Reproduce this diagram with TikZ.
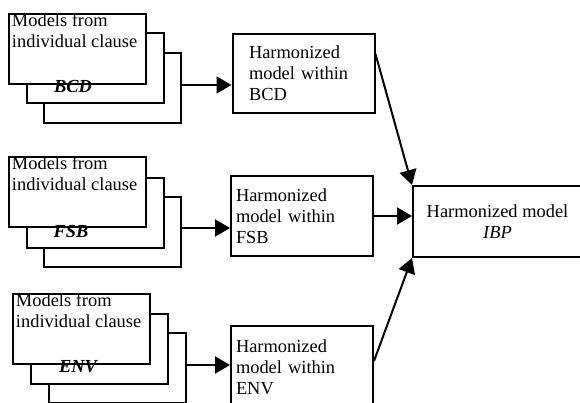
\documentclass[tikz,border=0pt]{standalone}
\usepackage{fontspec}
\setmainfont{Liberation Serif}
\usetikzlibrary{arrows.meta,calc}

\begin{document}
\begin{tikzpicture}[x=1pt,y=-1pt,>={Triangle[length=15pt,width=17pt]},line width=2pt,
    every node/.style={font=\fontsize{18.4pt}{21pt}\selectfont},
    stack/.style={draw,fill=white,minimum width=137pt,minimum height=70pt,inner sep=0pt},
    clause/.style={anchor=north west,align=left,inner sep=0pt},
    grp/.style={anchor=base,inner sep=0pt,font=\fontsize{18.4pt}{21pt}\selectfont\bfseries\itshape},
    harm/.style={draw,align=left,inner xsep=5pt,text width=132pt,minimum width=142pt}]
    \useasboundingbox (0,0) rectangle (580,403);
    \clip (0,0) rectangle (580,403);
    % clause models, three per domain
    \node[stack] (bcd3) at (112.5,88) {};
    \node[stack] (bcd2) at (95.5,68) {};
    \node[stack] (bcd1) at (77.5,49) {};
    \node[clause] at ([xshift=3pt]bcd1.north west) {Models from\\individual clause};
    \node[grp] at (73,93) {BCD};
    \node[stack] (fsb3) at (112.5,232) {};
    \node[stack] (fsb2) at (95.5,213) {};
    \node[stack] (fsb1) at (77.5,192) {};
    \node[clause] at ([xshift=3pt]fsb1.north west) {Models from\\individual clause};
    \node[grp] at (71,237) {FSB};
    \node[stack] (env3) at (117.5,368) {};
    \node[stack] (env2) at (99.5,349) {};
    \node[stack] (env1) at (81.5,329) {};
    \node[clause] at ([xshift=3pt]env1.north west) {Models from\\individual clause};
    \node[grp] at (78,372) {ENV};
    % harmonized models
    \node[harm,inner xsep=16pt,text width=109pt,minimum height=79pt] (hbcd) at (303.5,73.5) {Harmonized\\model within\\BCD};
    \node[harm,minimum height=80pt] (hfsb) at (302,216) {Harmonized\\model within\\FSB};
    \node[harm,minimum height=82pt] (henv) at (302,367) {Harmonized\\model within\\ENV};
    \node[draw,align=center,minimum width=169pt,minimum height=71pt] (ibp) at (497.5,221.5) {Harmonized model\\\textit{IBP}};
    \draw[->] (bcd3.east |- bcd1.south) -- (hbcd.west |- bcd1.south);
    \draw[->] (fsb3.east |- fsb1.south) -- (hfsb.west |- fsb1.south);
    \draw[->] (env3.east |- env1.south) -- (henv.west |- env1.south);
    \draw[->] ($(hbcd.north east)+(0,21)$) -- (ibp.north west);
    \draw[->] (hfsb.east) -- (hfsb.east -| ibp.west);
    \draw[->] ($(henv.north east)+(0,36)$) -- (ibp.south west);
\end{tikzpicture}
\end{document}
